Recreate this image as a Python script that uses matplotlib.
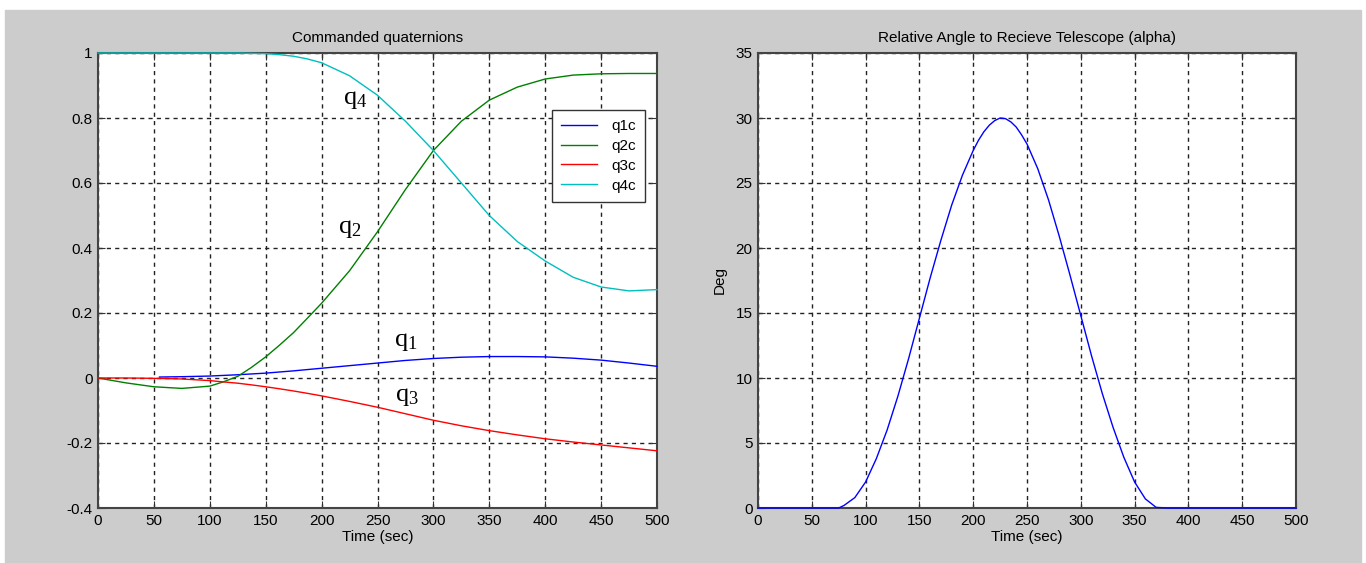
import matplotlib
matplotlib.use('Agg')
import matplotlib.pyplot as plt
from matplotlib.patches import Rectangle

plt.rcParams['font.family'] = ['Liberation Sans', 'DejaVu Sans']
plt.rcParams['mathtext.fontset'] = 'custom'
plt.rcParams['mathtext.rm'] = 'Liberation Serif'
plt.rcParams['mathtext.it'] = 'Liberation Serif'

# commanded quaternions
t = [0, 25, 50, 75, 100, 112, 125, 137, 150, 162, 175, 187, 200, 225, 250,
     275, 300, 325, 350, 375, 400, 425, 450, 475, 500]
q2c = [0, -0.015, -0.027, -0.032, -0.025, -0.012, 0.005, 0.032, 0.065, 0.1,
       0.14, 0.183, 0.23, 0.33, 0.45, 0.58, 0.70, 0.79, 0.855, 0.895, 0.92,
       0.932, 0.936, 0.937, 0.937]
q3c = [0, 0, -0.001, -0.003, -0.008, -0.012, -0.016, -0.021, -0.027, -0.033,
       -0.04, -0.047, -0.055, -0.072, -0.09, -0.11, -0.13, -0.147, -0.162,
       -0.175, -0.187, -0.197, -0.206, -0.215, -0.224]
q4c = [1, 1, 1, 1, 1, 1, 1, 0.999, 0.998, 0.995, 0.99, 0.982, 0.97, 0.93,
       0.87, 0.79, 0.70, 0.60, 0.50, 0.42, 0.36, 0.31, 0.28, 0.268, 0.272]
t1 = [55, 75, 100, 125, 150, 175, 200, 225, 250, 275, 300, 325, 350, 375,
      400, 425, 450, 475, 500]
q1c = [0.003, 0.004, 0.006, 0.01, 0.015, 0.022, 0.03, 0.038, 0.046, 0.054,
       0.06, 0.064, 0.066, 0.066, 0.065, 0.061, 0.055, 0.046, 0.036]

# relative angle alpha (deg)
ta = [0, 50, 75, 80, 90, 100, 110, 120, 130, 140, 150, 160, 170, 180, 190,
      200, 205, 210, 215, 220, 225, 230, 235, 240, 245, 250, 260, 270, 280,
      290, 300, 310, 320, 330, 340, 350, 360, 370, 380, 500]
alpha = [0, 0, 0, 0.2, 0.8, 2.0, 3.8, 6.0, 8.6, 11.5, 14.6, 17.7, 20.6, 23.3,
         25.6, 27.5, 28.3, 28.95, 29.45, 29.8, 30.0, 29.95, 29.7, 29.3, 28.7,
         28.0, 26.1, 23.7, 20.9, 17.9, 14.8, 11.7, 8.8, 6.2, 3.9, 2.0, 0.7,
         0.05, 0, 0]

fig = plt.figure(figsize=(13.66, 5.63), dpi=100)
fig.patch.set_facecolor('w')
fig.patches.append(Rectangle((5 / 1366, 0), 1356 / 1366, 553 / 563,
                             transform=fig.transFigure, color='#cccccc', zorder=-10))

ax1 = fig.add_axes([98 / 1366, 55 / 563, 559 / 1366, 455 / 563])
ax2 = fig.add_axes([758 / 1366, 55 / 563, 538 / 1366, 455 / 563])


def style(ax):
    ax.set_facecolor('w')
    ax.grid(True, ls=(0, (3, 3)), lw=1, color='#222222')
    ax.tick_params(direction='in', top=True, right=True, length=5,
                   labelsize=11, color='#333333', pad=4)
    for s in ax.spines.values():
        s.set_linewidth(1.5)
        s.set_color('#444444')
    ax.set_xlim(0, 500)
    ax.set_xticks(range(0, 501, 50))
    ax.set_xlabel('Time (sec)', fontsize=11, labelpad=2)


style(ax1)
kw = dict(lw=1, clip_on=False, zorder=5)
ax1.plot(t1, q1c, color='#0000ff', label='q1c', **kw)
ax1.plot(t, q2c, color='#008000', label='q2c', **kw)
ax1.plot(t, q3c, color='#ff0000', label='q3c', **kw)
ax1.plot(t, q4c, color='#00bfbf', label='q4c', **kw)
ax1.set_ylim(-0.4, 1)
ax1.set_yticks([-0.4, -0.2, 0, 0.2, 0.4, 0.6, 0.8, 1])
ax1.set_yticklabels(['-0.4', '-0.2', '0', '0.2', '0.4', '0.6', '0.8', '1'])
ax1.set_title('Commanded quaternions', fontsize=11, pad=8)
leg = ax1.legend(loc='upper right', bbox_to_anchor=(0.9785, 0.8747),
                 borderaxespad=0, fontsize=11, fancybox=False, framealpha=1,
                 handlelength=2.4, handletextpad=0.9, borderpad=0.6,
                 labelspacing=0.38)
leg.get_frame().set_edgecolor('#333333')
leg.get_frame().set_linewidth(1)
leg.set_zorder(10)

for lab, x, y in [('q$_4$', 230, 0.855), ('q$_2$', 225, 0.46),
                  ('q$_1$', 275, 0.11), ('q$_3$', 276, -0.06)]:
    ax1.text(x, y, lab, fontsize=19, ha='center', va='center',
             family='Liberation Serif')

style(ax2)
ax2.plot(ta, alpha, color='#0000ff', **kw)
ax2.set_ylim(0, 35)
ax2.set_yticks(range(0, 36, 5))
ax2.set_ylabel('Deg', fontsize=11, labelpad=6)
ax2.set_title('Relative Angle to Recieve Telescope (alpha)', fontsize=11, pad=8)

plt.savefig('out.png', dpi=100)
